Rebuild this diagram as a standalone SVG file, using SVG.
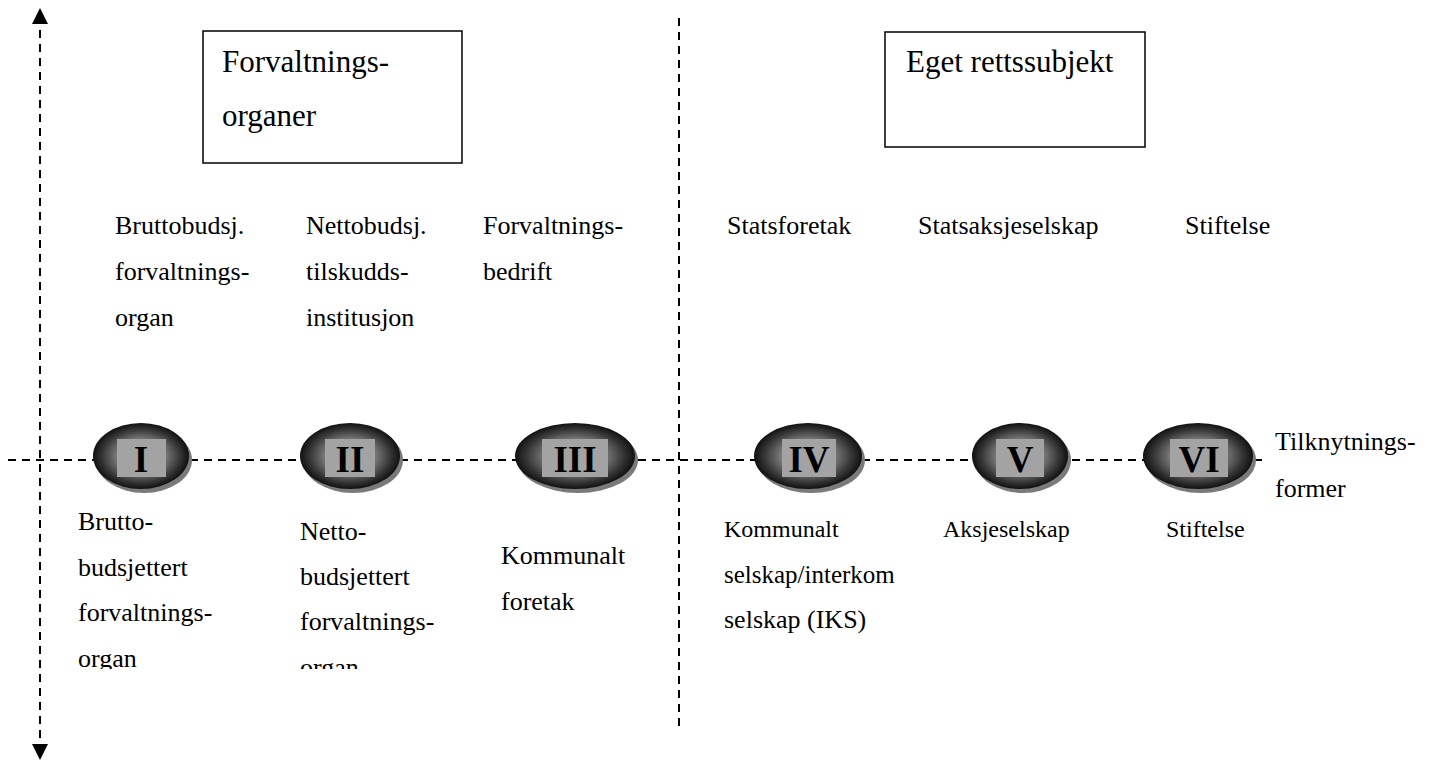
<svg xmlns="http://www.w3.org/2000/svg" width="1435" height="763" viewBox="0 0 1435 763">
<style>
.t{font-family:"Liberation Serif","Times New Roman",serif;fill:#000;}
.s26{font-size:26px;}
.s24{font-size:24px;}
.s31{font-size:31px;}
.num{font-family:"Liberation Serif","Times New Roman",serif;font-weight:bold;font-size:37px;fill:#000;text-anchor:middle;}
.box{fill:#fff;stroke:#000;stroke-width:1.5;}
.dash{stroke:#000;stroke-width:2;fill:none;stroke-dasharray:8 6;}
.ell{fill:url(#eg);}
.sh{fill:#7a7a7a;}
.inner{fill:#a3a3a3;}
</style>
<defs>
<radialGradient id="eg" cx="50%" cy="50%" r="50%">
<stop offset="0" stop-color="#b0b0b0"/>
<stop offset="0.5" stop-color="#7a7a7a"/>
<stop offset="0.82" stop-color="#333"/>
<stop offset="1" stop-color="#111"/>
</radialGradient>
<marker id="ah" viewBox="0 0 10 10" refX="0" refY="5" markerWidth="16" markerHeight="16" markerUnits="userSpaceOnUse" orient="auto">
<path d="M0,0 L10,5 L0,10 z" fill="#000"/>
</marker>
<clipPath id="cl"><rect x="0" y="0" width="1435" height="669"/></clipPath>
</defs>
<rect width="1435" height="763" fill="#fff"/>
<g id="connectors">
<line class="dash" x1="40" y1="738" x2="40" y2="24" marker-end="url(#ah)"/>
<line class="dash" x1="40" y1="30" x2="40" y2="744" marker-end="url(#ah)"/>
<line class="dash" x1="8" y1="460" x2="1268" y2="460"/>
<line class="dash" x1="679" y1="18" x2="679" y2="728"/>
</g>
<g id="box-forvaltningsorganer">
<rect class="box" x="203" y="31" width="259" height="132"/>
<text class="t s31" x="222" y="72">Forvaltnings-</text>
<text class="t s31" x="222" y="126">organer</text>
</g>
<g id="box-eget">
<rect class="box" x="885" y="32" width="260" height="115"/>
<text class="t s31" x="906" y="72">Eget rettssubjekt</text>
</g>
<g id="state-labels">
<text class="t s26" x="115" y="234">Bruttobudsj.</text>
<text class="t s26" x="115" y="280">forvaltnings-</text>
<text class="t s26" x="115" y="326">organ</text>
<text class="t s26" x="306" y="234">Nettobudsj.</text>
<text class="t s26" x="306" y="280">tilskudds-</text>
<text class="t s26" x="306" y="326">institusjon</text>
<text class="t s26" x="483" y="234">Forvaltnings-</text>
<text class="t s26" x="483" y="280">bedrift</text>
<text class="t s26" x="727" y="234">Statsforetak</text>
<text class="t s26" x="918" y="234">Statsaksjeselskap</text>
<text class="t s26" x="1185" y="234">Stiftelse</text>
</g>
<g id="node-I">
<ellipse class="sh" cx="144" cy="460" rx="48" ry="33"/>
<ellipse class="ell" cx="141" cy="456" rx="48" ry="33"/>
<rect class="inner" x="117" y="439" width="49" height="38"/>
<text class="num" x="141" y="472">I</text>
</g>
<g id="node-II">
<ellipse class="sh" cx="353" cy="460" rx="50" ry="33"/>
<ellipse class="ell" cx="350" cy="456" rx="50" ry="33"/>
<rect class="inner" x="325" y="439" width="50" height="38"/>
<text class="num" x="350" y="472">II</text>
</g>
<g id="node-III">
<ellipse class="sh" cx="578" cy="460" rx="60" ry="33"/>
<ellipse class="ell" cx="575" cy="456" rx="60" ry="33"/>
<rect class="inner" x="542" y="439" width="66" height="38"/>
<text class="num" x="575" y="472">III</text>
</g>
<g id="node-IV">
<ellipse class="sh" cx="811" cy="460" rx="54" ry="33"/>
<ellipse class="ell" cx="808" cy="456" rx="54" ry="33"/>
<rect class="inner" x="782" y="439" width="54" height="38"/>
<text class="num" x="809" y="472">IV</text>
</g>
<g id="node-V">
<ellipse class="sh" cx="1023" cy="460" rx="48" ry="33"/>
<ellipse class="ell" cx="1020" cy="456" rx="48" ry="33"/>
<rect class="inner" x="996" y="439" width="48" height="38"/>
<text class="num" x="1020" y="472">V</text>
</g>
<g id="node-VI">
<ellipse class="sh" cx="1201" cy="460" rx="55" ry="33"/>
<ellipse class="ell" cx="1198" cy="456" rx="55" ry="33"/>
<rect class="inner" x="1170" y="439" width="58" height="38"/>
<text class="num" x="1199" y="472">VI</text>
</g>
<g id="axis-label">
<text class="t s26" x="1275" y="450">Tilknytnings-</text>
<text class="t s26" x="1275" y="497">former</text>
</g>
<g id="municipal-labels" clip-path="url(#cl)">
<text class="t s26" x="78" y="530">Brutto-</text>
<text class="t s26" x="78" y="576">budsjettert</text>
<text class="t s26" x="78" y="621">forvaltnings-</text>
<text class="t s26" x="78" y="667">organ</text>
<text class="t s26" x="300" y="540">Netto-</text>
<text class="t s26" x="300" y="585">budsjettert</text>
<text class="t s26" x="300" y="630">forvaltnings-</text>
<text class="t s26" x="300" y="676">organ</text>
<text class="t s26" x="501" y="564">Kommunalt</text>
<text class="t s26" x="501" y="610">foretak</text>
<text class="t s24" x="724" y="537">Kommunalt</text>
<text class="t" font-size="25" x="724" y="583">selskap/interkom</text>
<text class="t" font-size="26" x="724" y="628">selskap (IKS)</text>
<text class="t s24" x="943" y="537">Aksjeselskap</text>
<text class="t s24" x="1166" y="537">Stiftelse</text>
</g>
</svg>
